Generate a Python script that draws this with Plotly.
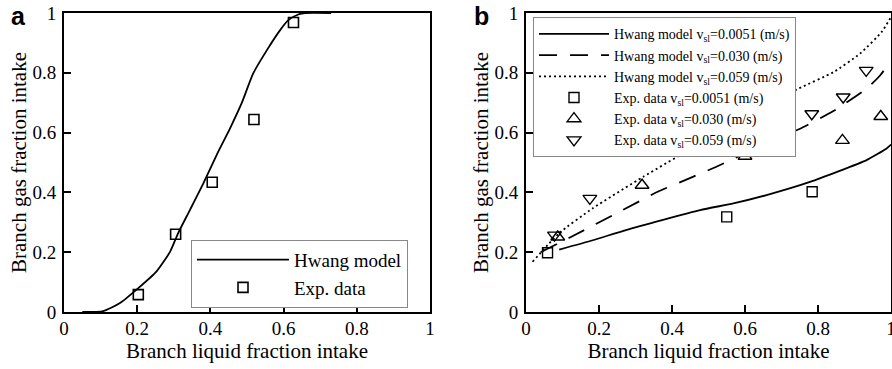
import plotly.graph_objects as go

# ---------------- Data: panel a ----------------
a_model_x = [0.05, 0.107, 0.153, 0.203, 0.253, 0.29, 0.312, 0.344, 0.381, 0.417,
             0.454, 0.486, 0.517, 0.554, 0.59, 0.613, 0.64, 0.66, 0.73]
a_model_y = [0.0, 0.003, 0.03, 0.08, 0.136, 0.202, 0.264, 0.341, 0.431, 0.525,
             0.615, 0.70, 0.798, 0.875, 0.942, 0.976, 0.995, 1.0, 1.0]
a_exp_x = [0.203, 0.305, 0.405, 0.519, 0.627]
a_exp_y = [0.058, 0.26, 0.434, 0.644, 0.968]

# ---------------- Data: panel b ----------------
b_m1_x = [0.091, 0.183, 0.274, 0.477, 0.568, 0.659, 0.778, 0.933, 0.988, 1.0]
b_m1_y = [0.209, 0.24, 0.274, 0.341, 0.363, 0.391, 0.435, 0.508, 0.547, 0.56]
b_m2_x = [0.04, 0.123, 0.265, 0.361, 0.457, 0.52, 0.655, 0.751, 0.842, 0.933, 0.97, 1.0]
b_m2_y = [0.2, 0.251, 0.341, 0.402, 0.452, 0.485, 0.563, 0.613, 0.672, 0.747, 0.791, 0.841]
b_m3_x = [0.018, 0.09, 0.183, 0.321, 0.477, 0.559, 0.742, 0.842, 0.915, 0.974, 1.0]
b_m3_y = [0.168, 0.263, 0.347, 0.452, 0.563, 0.613, 0.744, 0.802, 0.864, 0.936, 0.986]
b_e1_x = [0.059, 0.55, 0.784]
b_e1_y = [0.198, 0.318, 0.402]
b_e2_x = [0.087, 0.318, 0.6, 0.867, 0.972]
b_e2_y = [0.251, 0.424, 0.521, 0.574, 0.654]
b_e3_x = [0.078, 0.175, 0.395, 0.783, 0.869, 0.932]
b_e3_y = [0.257, 0.38, 0.594, 0.663, 0.719, 0.808]

tick_vals = [0, 0.2, 0.4, 0.6, 0.8, 1]
tick_text = ["0", "0.2", "0.4", "0.6", "0.8", "1"]

SERIF = "Liberation Serif, Times New Roman, serif"
W, H = 892, 369
ML, MR, MT, MB = 64, 1, 12.7, 56.7
PW, PH = W - ML - MR, H - MT - MB


def px(x):  # page pixel -> paper fraction (x)
    return (x - ML) / PW


def py(y):  # page pixel -> paper fraction (y)
    return (H - MB - y) / PH


fig = go.Figure()

# panel a
fig.add_trace(go.Scatter(x=a_model_x, y=a_model_y, mode="lines", name="Hwang model",
                         line=dict(color="black", width=1.8, shape="spline", smoothing=0.6),
                         xaxis="x", yaxis="y", legend="legend"))
fig.add_trace(go.Scatter(x=a_exp_x, y=a_exp_y, mode="markers", name="Exp. data",
                         marker=dict(symbol="square-open", size=10, color="black",
                                     line=dict(width=1.6, color="black")),
                         xaxis="x", yaxis="y", legend="legend"))

# panel b
mk = dict(color="black", line=dict(width=1.4, color="black"))
fig.add_trace(go.Scatter(x=b_m1_x, y=b_m1_y, mode="lines",
                         name="Hwang model v<sub>sl</sub>=0.0051 (m/s)",
                         line=dict(color="black", width=1.8, shape="spline", smoothing=0.5),
                         xaxis="x2", yaxis="y2", legend="legend2"))
fig.add_trace(go.Scatter(x=b_m2_x, y=b_m2_y, mode="lines",
                         name="Hwang model v<sub>sl</sub>=0.030 (m/s)",
                         line=dict(color="black", width=1.8, dash="18px,13px",
                                   shape="spline", smoothing=0.5),
                         xaxis="x2", yaxis="y2", legend="legend2"))
fig.add_trace(go.Scatter(x=b_m3_x, y=b_m3_y, mode="lines",
                         name="Hwang model v<sub>sl</sub>=0.059 (m/s)",
                         line=dict(color="black", width=1.8, dash="2px,3px",
                                   shape="spline", smoothing=0.5),
                         xaxis="x2", yaxis="y2", legend="legend2"))
fig.add_trace(go.Scatter(x=b_e1_x, y=b_e1_y, mode="markers",
                         name="Exp. data v<sub>sl</sub>=0.0051 (m/s)",
                         marker=dict(symbol="square-open", size=10, **mk),
                         xaxis="x2", yaxis="y2", legend="legend2"))
fig.add_trace(go.Scatter(x=b_e2_x, y=b_e2_y, mode="markers",
                         name="Exp. data v<sub>sl</sub>=0.030 (m/s)",
                         marker=dict(symbol="triangle-up-open", size=12, **mk),
                         xaxis="x2", yaxis="y2", legend="legend2"))
fig.add_trace(go.Scatter(x=b_e3_x, y=b_e3_y, mode="markers",
                         name="Exp. data v<sub>sl</sub>=0.059 (m/s)",
                         marker=dict(symbol="triangle-down-open", size=12, **mk),
                         xaxis="x2", yaxis="y2", legend="legend2"))


def common_axis():
    return dict(range=[0, 1], tickvals=tick_vals, ticktext=tick_text,
                ticks="inside", ticklen=7, tickwidth=1.5, tickcolor="black",
                showline=True, linewidth=2, linecolor="black", mirror=True,
                showgrid=False, zeroline=False, automargin=False,
                ticklabeloverflow="allow",
                tickfont=dict(family=SERIF, size=19, color="black"))


def xax(dom, anchor):
    d = common_axis()
    d.update(domain=dom, anchor=anchor, ticklabelstandoff=-2,
             title=dict(text="Branch liquid fraction intake",
                        font=dict(family=SERIF, size=21, color="black"), standoff=0))
    return d


def yax(anchor):
    d = common_axis()
    d.update(domain=[0, 1], anchor=anchor, ticklabelstandoff=2,
             title=dict(text="Branch gas fraction intake",
                        font=dict(family=SERIF, size=21, color="black"), standoff=0))
    return d


fig.update_layout(
    width=W, height=H,
    margin=dict(l=ML, r=MR, t=MT, b=MB, pad=0),
    paper_bgcolor="white", plot_bgcolor="white",
    showlegend=True,
    xaxis=xax([px(64), px(430)], "y"),
    yaxis=yax("x"),
    xaxis2=xax([px(526), px(891)], "y2"),
    yaxis2=yax("x2"),
    legend=dict(x=px(191), y=py(240), xanchor="left", yanchor="top",
                bgcolor="white", bordercolor="#888888", borderwidth=1,
                font=dict(family=SERIF, size=19, color="black"),
                itemwidth=92, traceorder="normal"),
    legend2=dict(x=px(533), y=py(17), xanchor="left", yanchor="top",
                 bgcolor="white", bordercolor="#888888", borderwidth=1,
                 font=dict(family=SERIF, size=14, color="black"),
                 itemwidth=70, traceorder="normal", tracegroupgap=0),
    annotations=[
        dict(text="<b>a</b>", x=px(18), y=py(0), xref="paper", yref="paper",
             xanchor="center", yanchor="top", showarrow=False,
             font=dict(family="Liberation Sans, Arial, sans-serif", size=25, color="black")),
        dict(text="<b>b</b>", x=px(481), y=py(0), xref="paper", yref="paper",
             xanchor="center", yanchor="top", showarrow=False,
             font=dict(family="Liberation Sans, Arial, sans-serif", size=25, color="black")),
    ],
)

fig.write_html("out.html")
